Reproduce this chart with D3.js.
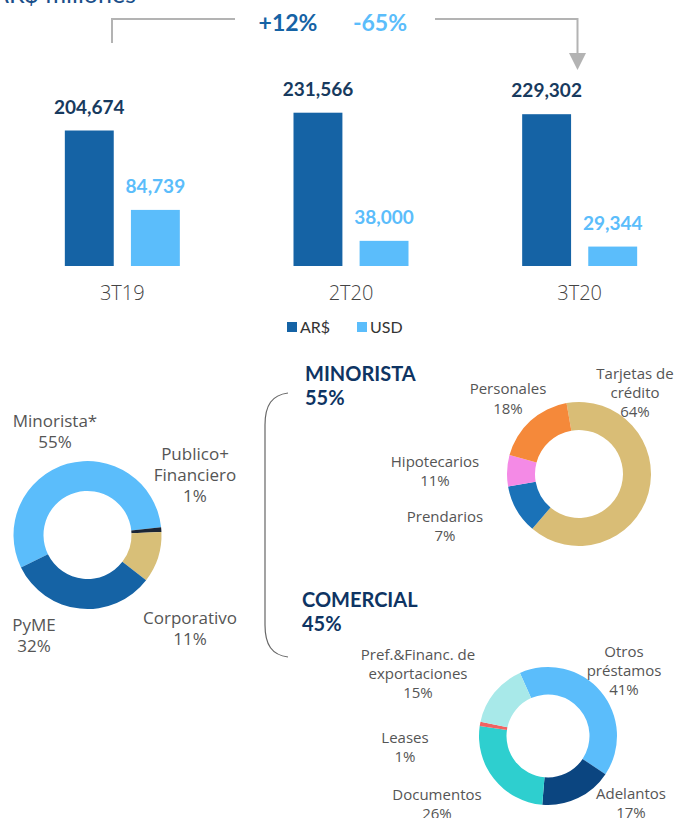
<!DOCTYPE html>
<html>
<head>
<meta charset="utf-8">
<script src="https://cdn.jsdelivr.net/npm/d3@7"></script>
<style>
  body { margin: 0; background: #fff; }
  svg { font-family: Lato, "Open Sans", sans-serif; }
  .lbl { fill: #555; font-family: "Open Sans", sans-serif; font-size: 17px; text-anchor: middle; }
  .small { fill: #555; font-family: "Open Sans", sans-serif; font-size: 15px; text-anchor: middle; }
</style>
</head>
<body>
<div id="chart"></div>
<script>
// bar chart data
var periods = ['3T19', '2T20', '3T20'];
var arsValues = [204674, 231566, 229302];
var usdValues = [84739, 38000, 29344];
var seriesNames = ['AR$', 'USD'];

// left donut
var segNames = ['Minorista*', 'Publico+Financiero', 'Corporativo', 'PyME'];
var segValues = [55, 1, 11, 32];

// minorista donut
var minNames = ['Tarjetas de crédito', 'Hipotecarios', 'Prendarios', 'Personales'];
var minValues = [64, 11, 7, 18];

// comercial donut
var comNames = ['Otros préstamos', 'Adelantos', 'Documentos', 'Leases', 'Pref.&Financ. de exportaciones'];
var comValues = [41, 17, 26, 1, 15];

var svgWidth = 679;
var svgHeight = 818;

var colors = {
    ars: '#1563a5',
    usd: '#5bbdfb',
    navy: '#0e3463',
    gray: '#b3b3b3'
};

var svg = d3.select('#chart')
    .append('svg')
    .attr('width', svgWidth)
    .attr('height', svgHeight);

// title (cut at top in the original)
svg.append('text')
    .attr('x', -8)
    .attr('y', 3)
    .style('font-size', '25px')
    .style('fill', '#1a4f8a')
    .text('AR$ millones');

// scales
var baseline = 266;
var xScale = d3.scaleBand()
    .domain(periods)
    .range([8, 694])
    .paddingInner(0)
    .paddingOuter(0);

var xSub = d3.scaleBand()
    .domain(seriesNames)
    .range([0, 115])
    .paddingInner(0.26);

var yScale = d3.scaleLinear()
    .domain([0, 240000])
    .range([baseline, baseline - 240000 * 0.000662]);

var groupOffset = function(p) {
    return xScale(p) + xScale.bandwidth() / 2 - 57.5;
};

var rows = periods.map(function(p, i) {
    return { period: p, values: [arsValues[i], usdValues[i]] };
});

var groups = svg.selectAll('.grp')
    .data(rows)
    .enter()
    .append('g')
    .attr('class', 'grp')
    .attr('transform', d => `translate(${groupOffset(d.period)}, 0)`);

groups.selectAll('rect')
    .data(d => d.values.map((v, j) => ({ key: seriesNames[j], value: v })))
    .enter()
    .append('rect')
    .attr('x', d => xSub(d.key))
    .attr('y', d => yScale(d.value))
    .attr('width', xSub.bandwidth())
    .attr('height', d => baseline - yScale(d.value))
    .attr('fill', d => d.key === 'AR$' ? colors.ars : colors.usd);

groups.selectAll('.val')
    .data(d => d.values.map((v, j) => ({ key: seriesNames[j], value: v })))
    .enter()
    .append('text')
    .attr('class', 'val')
    .attr('x', d => xSub(d.key) + xSub.bandwidth() / 2)
    .attr('y', d => yScale(d.value) - 17)
    .style('text-anchor', 'middle')
    .style('font-size', '19px')
    .style('font-weight', 'bold')
    .style('fill', d => d.key === 'AR$' ? '#173a5e' : colors.usd)
    .text(d => d3.format(',')(d.value));

// category axis labels
svg.selectAll('.cat')
    .data(periods)
    .enter()
    .append('text')
    .attr('class', 'cat')
    .attr('x', d => groupOffset(d) + 57.5)
    .attr('y', 300)
    .style('text-anchor', 'middle')
    .style('font-family', '"Open Sans", sans-serif')
    .style('font-weight', 300)
    .style('font-size', '20px')
    .style('fill', '#444')
    .text(d => d);

// legend
var legend = svg.append('g').attr('transform', 'translate(287, 320)');
seriesNames.forEach(function(name, i) {
    var lx = i * 70;
    legend.append('rect')
        .attr('x', lx)
        .attr('y', 2)
        .attr('width', 10)
        .attr('height', 10)
        .attr('fill', i === 0 ? colors.ars : colors.usd);
    legend.append('text')
        .attr('x', lx + 13)
        .attr('y', 13)
        .style('font-size', '16px')
        .style('fill', '#333')
        .text(name);
});

// growth annotation
svg.append('path')
    .attr('d', 'M112,43 V19 H235')
    .attr('fill', 'none')
    .attr('stroke', colors.gray)
    .attr('stroke-width', 2);
svg.append('path')
    .attr('d', 'M435,19 H577.5 V54')
    .attr('fill', 'none')
    .attr('stroke', colors.gray)
    .attr('stroke-width', 2);
svg.append('path')
    .attr('d', 'M569,53 L586,53 L577.5,70 Z')
    .attr('fill', colors.gray);
svg.append('text')
    .attr('x', 288)
    .attr('y', 31)
    .style('text-anchor', 'middle')
    .style('font-size', '23px')
    .style('font-weight', 'bold')
    .style('fill', colors.ars)
    .text('+12%');
svg.append('text')
    .attr('x', 380)
    .attr('y', 31)
    .style('text-anchor', 'middle')
    .style('font-size', '23px')
    .style('font-weight', 'bold')
    .style('fill', colors.usd)
    .text('-65%');

// donut helper
function donut(cx, cy, inner, outer, values, cols, startDeg) {
    var start = startDeg * Math.PI / 180;
    var pie = d3.pie().sort(null)
        .startAngle(start)
        .endAngle(start + 2 * Math.PI);
    var arc = d3.arc().innerRadius(inner).outerRadius(outer);
    svg.append('g')
        .attr('transform', `translate(${cx}, ${cy})`)
        .selectAll('path')
        .data(pie(values))
        .enter()
        .append('path')
        .attr('d', arc)
        .attr('fill', (d, i) => cols[i]);
}

function label(lines, x, y, cls, lh) {
    var t = svg.append('text').attr('class', cls);
    lines.forEach(function(s, i) {
        t.append('tspan').attr('x', x).attr('y', y + i * lh).text(s);
    });
}

// left donut
donut(87.5, 535, 44, 74, segValues, ['#5bbdfb', '#1c2635', '#d8bf78', '#1563a5'], -116);
label([segNames[0], segValues[0] + '%'], 55, 427, 'lbl', 21);
label(['Publico+', 'Financiero', segValues[1] + '%'], 195, 460, 'lbl', 21);
label([segNames[2], segValues[2] + '%'], 190, 624, 'lbl', 21);
label([segNames[3], segValues[3] + '%'], 34, 631, 'lbl', 21);

// bracket
svg.append('path')
    .attr('d', 'M288,393 C272,395 265,405 265,425 V625 C265,645 272,655 288,657')
    .attr('fill', 'none')
    .attr('stroke', '#666')
    .attr('stroke-width', 1.2);

// section headings
[['MINORISTA', '55%', 305, 381], ['COMERCIAL', '45%', 302, 607]].forEach(function(h) {
    var t = svg.append('text')
        .style('font-size', '20px')
        .style('font-weight', 'bold')
        .style('fill', colors.navy);
    t.append('tspan').attr('x', h[2]).attr('y', h[3]).text(h[0]);
    t.append('tspan').attr('x', h[2]).attr('y', h[3] + 24).text(h[1]);
});

// minorista donut
donut(579, 474, 44, 72, minValues, ['#d9bd76', '#1a72b8', '#f48ae6', '#f5893a'], -10);
label(['Personales', minValues[3] + '%'], 508, 394, 'small', 20);
label(['Tarjetas de', 'crédito', minValues[0] + '%'], 635, 379, 'small', 19);
label([minNames[1], minValues[1] + '%'], 435, 467, 'small', 19);
label([minNames[2], minValues[2] + '%'], 445, 522, 'small', 19);

// comercial donut
donut(548, 736, 41.5, 69, comValues, ['#5bbdfb', '#0b4580', '#2ecfcf', '#f06262', '#a8e9e9'], -24);
label(['Pref.&Financ. de', 'exportaciones', comValues[4] + '%'], 418, 660, 'small', 19);
label(['Otros', 'préstamos', comValues[0] + '%'], 624, 657, 'small', 19);
label([comNames[3], comValues[3] + '%'], 405, 743, 'small', 19);
label([comNames[2], comValues[2] + '%'], 437, 800, 'small', 19);
label([comNames[1], comValues[1] + '%'], 631, 799, 'small', 19);
</script>
</body>
</html>
